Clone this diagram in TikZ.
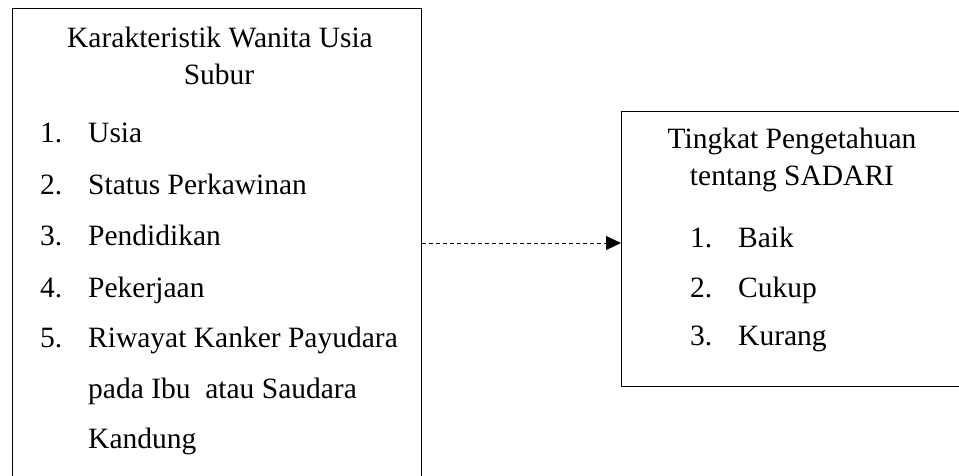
\documentclass[tikz,border=0pt]{standalone}
\usepackage{fontspec}
\setmainfont{Liberation Serif}
\usetikzlibrary{arrows.meta,positioning}

\begin{document}
\begin{tikzpicture}[
x=1pt,y=-1pt,
kotak/.style={draw,line width=1.3pt,minimum width=#1,anchor=north west,inner sep=0pt},
judul/.style={anchor=base,inner sep=0pt,font=\fontsize{29.5}{37}\selectfont},
nomor/.style={anchor=base west,inner sep=0pt,font=\fontsize{29.5}{37}\selectfont},
isi/.style={anchor=base west,inner sep=0pt,font=\fontsize{29.5}{37}\selectfont},
hub/.style={-{Triangle[length=15pt,width=14pt]},line width=1pt,dash pattern=on 4pt off 3pt}
]
\useasboundingbox (0,0) rectangle (959,475);
\clip (0,0) rectangle (959,475);
% kotak variabel
\node[kotak=409pt,minimum height=480pt] (kar) at (12,8) {};
\node[kotak=350pt,minimum height=275pt] (peng) at (621,111) {};

% variabel independen
\node[judul] (kar1) at (220,47) {Karakteristik Wanita Usia};
\node[judul] (kar2) at (219,84) {Subur};
\node[nomor] (n1) at (40,142) {1.};
\node[isi] (usia) at (88,142) {Usia};
\node[nomor] (n2) at (40,194) {2.};
\node[isi] (status) at (88,194) {Status Perkawinan};
\node[nomor] (n3) at (40,245) {3.};
\node[isi] (didik) at (88,245) {Pendidikan};
\node[nomor] (n4) at (40,297) {4.};
\node[isi] (kerja) at (88,297) {Pekerjaan};
\node[nomor] (n5) at (40,347) {5.};
\node[isi] (riw1) at (88,347) {Riwayat Kanker Payudara};
\node[isi] (riw2) at (88,398) {pada Ibu\ \ atau Saudara};
\node[isi] (riw3) at (88,448) {Kandung};

% variabel dependen
\node[judul] (peng1) at (792,148) {Tingkat Pengetahuan};
\node[judul] (peng2) at (792,185) {tentang SADARI};
\node[nomor] (m1) at (690,247) {1.};
\node[isi] (baik) at (738,247) {Baik};
\node[nomor] (m2) at (690,297) {2.};
\node[isi] (cukup) at (738,297) {Cukup};
\node[nomor] (m3) at (690,345) {3.};
\node[isi] (kurang) at (738,345) {Kurang};

\coordinate (garis) at (0,243);
\draw[hub] (kar.east |- garis) -- (peng.west |- garis);
\end{tikzpicture}
\end{document}
